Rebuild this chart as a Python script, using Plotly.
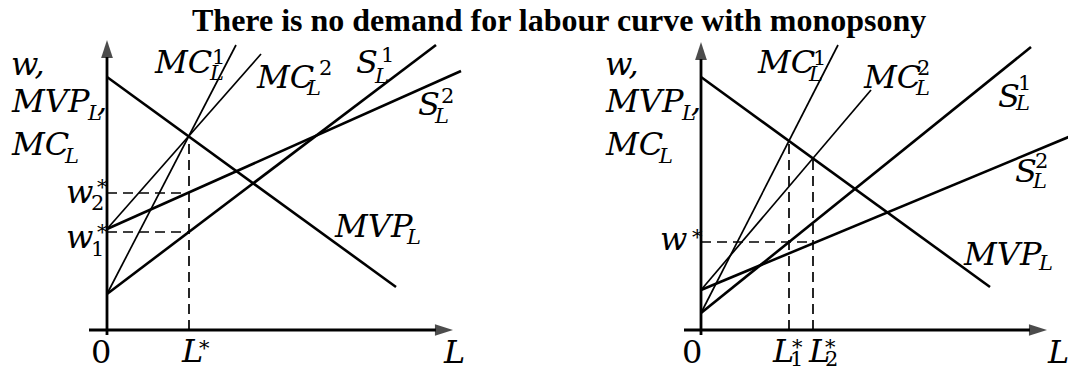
import plotly.graph_objects as go

W, H = 1068, 378

# ---------------- data ----------------
# curves: value at L = 0, and the (L, value) where each drawn segment ends
curve_names = ["MVP_L", "S_L^1", "S_L^2", "MC_L^1", "MC_L^2"]
left_start_value = [25.3, 3.6, 10.1, 3.6, 10.1]
left_end_labour = [28.9, 32.9, 35.4, 12.9, 15.4]
left_end_value = [4.3, 28.5, 25.9, 28.5, 27.6]

right_start_value = [25.3, 1.7, 4.0, 1.7, 4.0]
right_end_labour = [28.9, 33.0, 37.0, 13.7, 17.0]
right_end_value = [4.3, 28.3, 19.4, 28.5, 24.0]

# equilibrium guides
left_L_star = [8.2]
left_L_star_top = [19.4]
left_w_star = [13.7, 9.8]          # w2*, w1*
left_w_star_end = [8.2, 8.2]

right_L_star = [8.8, 11.2]         # L1*, L2*
right_L_star_top = [18.9, 17.2]
right_w_star = [8.8]
right_w_star_end = [11.2]

# axis extents (L axis, wage axis)
left_L_axis = [-1.8, 34.6]
left_w_axis = [-0.5, 29.0]
right_L_axis = [-1.7, 34.6]
right_w_axis = [-0.5, 28.8]

# ---------------- styles ----------------
curve_widths = [2.6, 2.6, 2.6, 1.7, 1.7]
AXIS_W = 2.8
DASH_W = 1.7
DASH = "10px,6px"

fig = go.Figure()

panels = [
    ("x", "y", left_start_value, left_end_labour, left_end_value,
     left_L_star, left_L_star_top, left_w_star, left_w_star_end, left_L_axis, left_w_axis),
    ("x2", "y2", right_start_value, right_end_labour, right_end_value,
     right_L_star, right_L_star_top, right_w_star, right_w_star_end, right_L_axis, right_w_axis),
]

for (xa, ya, sv, el, ev, Ls, Lt, ws, we, La, wa) in panels:
    for i, nm in enumerate(curve_names):
        fig.add_trace(go.Scatter(
            x=[0, el[i]], y=[sv[i], ev[i]], mode="lines", name=nm,
            line=dict(color="black", width=curve_widths[i]),
            xaxis=xa, yaxis=ya, hoverinfo="skip"))
    for L, top in zip(Ls, Lt):
        fig.add_trace(go.Scatter(
            x=[L, L], y=[0, top], mode="lines",
            line=dict(color="black", width=DASH_W, dash=DASH),
            xaxis=xa, yaxis=ya, hoverinfo="skip"))
    for w, e in zip(ws, we):
        fig.add_trace(go.Scatter(
            x=[0, e], y=[w, w], mode="lines",
            line=dict(color="black", width=DASH_W, dash=DASH),
            xaxis=xa, yaxis=ya, hoverinfo="skip"))
    # axes with arrow heads
    arrow_marker = dict(symbol="arrow", size=[0, 19], angleref="previous",
                        color="black", line=dict(width=0))
    fig.add_trace(go.Scatter(
        x=La, y=[0, 0], mode="lines+markers",
        line=dict(color="black", width=AXIS_W), marker=arrow_marker,
        xaxis=xa, yaxis=ya, hoverinfo="skip"))
    fig.add_trace(go.Scatter(
        x=[0, 0], y=wa, mode="lines+markers",
        line=dict(color="black", width=AXIS_W), marker=arrow_marker,
        xaxis=xa, yaxis=ya, hoverinfo="skip"))

# ---------------- text ----------------
MATH = "DejaVu Serif"
BIG, SMALL = 32, 21
annotations = []


def piece(px, baseline, text, size=BIG, italic=True, family=MATH, k=0.346):
    mid = baseline - k * size
    annotations.append(dict(
        x=px / W, y=1 - mid / H, xref="paper", yref="paper",
        text=text, showarrow=False, xanchor="left", yanchor="middle",
        borderpad=0,
        font=dict(family=family, size=size, color="black",
                  style="italic" if italic else "normal")))


# title
annotations.append(dict(
    x=559 / W, y=1 - (31 - 0.3375 * 32) / H, xref="paper", yref="paper",
    text="<b>There is no demand for labour curve with monopsony</b>",
    showarrow=False, xanchor="center", yanchor="middle", borderpad=0,
    font=dict(family="Liberation Serif", size=32, color="black")))

for dx in (0, 594):
    piece(10 + dx, 75, "w,")
    piece(10 + dx, 112, "MVP")
    piece(86 + dx, 120, "L", SMALL)
    piece(96 + dx, 112, ",")
    piece(10 + dx, 155, "MC")
    piece(63 + dx, 163, "L", SMALL)

# left panel labels
piece(153, 73, "MC"); piece(208, 80, "L", SMALL); piece(211, 64, "1", SMALL, False)
piece(255, 88, "MC"); piece(305, 95, "L", SMALL); piece(318, 75, "2", SMALL, False)
piece(355, 73, "S"); piece(373, 83, "L", SMALL); piece(380, 62, "1", SMALL, False)
piece(417, 115, "S"); piece(433, 123, "L", SMALL); piece(440, 103, "2", SMALL, False)
piece(333, 237, "MVP"); piece(405, 244, "L", SMALL)
piece(65, 203, "w"); piece(90, 210, "2", SMALL, False); piece(96, 194, "*", SMALL, False)
piece(65, 248, "w"); piece(90, 256, "1", SMALL, False); piece(96, 239, "*", SMALL, False)
piece(90, 363, "0", BIG, False)
piece(180, 362, "L"); piece(198, 355, "*", SMALL, False)
piece(442, 363, "L")

# right panel labels
piece(756, 73, "MC"); piece(807, 81, "L", SMALL); piece(812, 65, "1", SMALL, False)
piece(862, 88, "MC"); piece(914, 95, "L", SMALL); piece(916, 75, "2", SMALL, False)
piece(997, 107, "S"); piece(1014, 110, "L", SMALL); piece(1017, 90, "1", SMALL, False)
piece(1014, 182, "S"); piece(1031, 188, "L", SMALL); piece(1034, 168, "2", SMALL, False)
piece(962, 265, "MVP"); piece(1037, 270, "L", SMALL)
piece(659, 250, "w"); piece(691, 244, "*", SMALL, False)
piece(681, 363, "0", BIG, False)
piece(771, 362, "L"); piece(789, 366, "1", SMALL, False); piece(791, 354, "*", SMALL, False)
piece(807, 362, "L"); piece(824, 366, "2", SMALL, False); piece(824, 354, "*", SMALL, False)
piece(1046, 363, "L")

ax_common = dict(visible=False, showgrid=False, zeroline=False, fixedrange=True)
fig.update_layout(
    width=W, height=H,
    margin=dict(l=0, r=0, t=0, b=0),
    paper_bgcolor="white", plot_bgcolor="white",
    showlegend=False,
    xaxis=dict(domain=[0, 0.5], range=[-10.7, 42.7], **ax_common),
    yaxis=dict(domain=[0, 1], range=[-4.8, 33.0], **ax_common),
    xaxis2=dict(domain=[0.5, 1], range=[-16.7, 36.7], anchor="y2", **ax_common),
    yaxis2=dict(domain=[0, 1], range=[-4.8, 33.0], anchor="x2", **ax_common),
    annotations=annotations,
)

fig.write_html(
    "out.html",
    config={"displayModeBar": False},
    post_script="document.body.style.margin='0';document.body.style.overflow='hidden';",
)
